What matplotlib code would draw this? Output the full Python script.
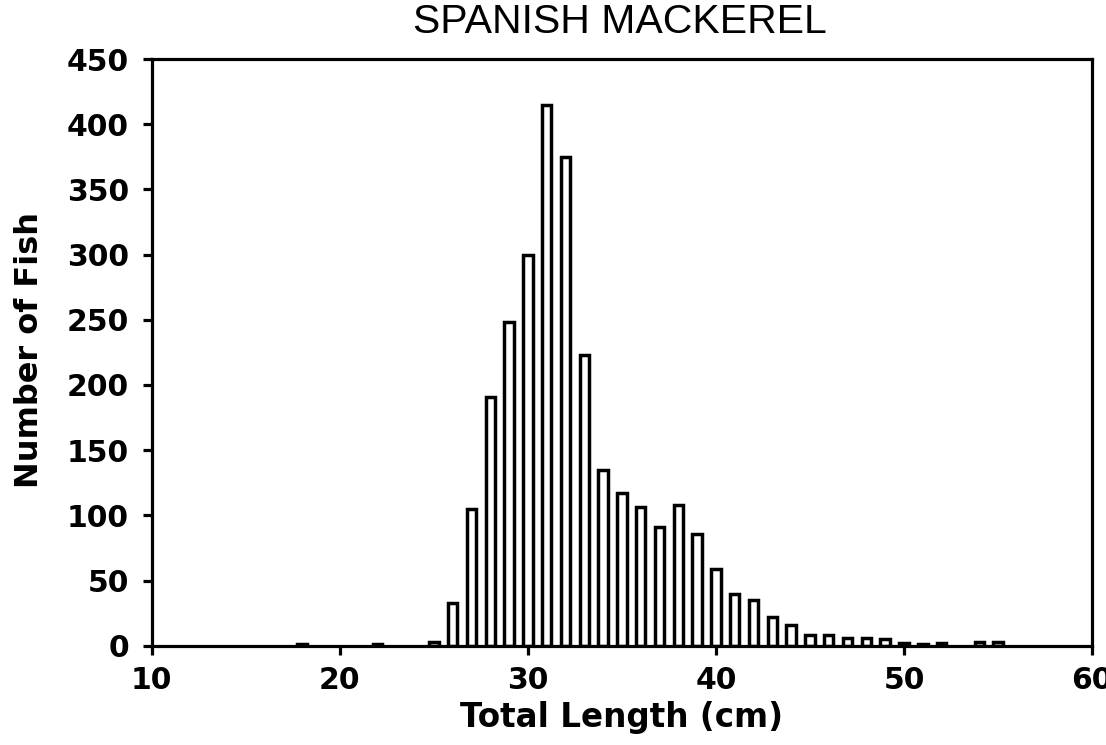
import matplotlib
matplotlib.use("Agg")
import matplotlib.pyplot as plt

# Data
lengths = [18, 22, 25, 26, 27, 28, 29, 30, 31, 32, 33, 34, 35, 36, 37, 38, 39,
           40, 41, 42, 43, 44, 45, 46, 47, 48, 49, 50, 51, 52, 54, 55]
counts = [1, 1, 3, 33, 105, 191, 248, 300, 415, 375, 223, 135, 117, 106, 91, 108, 86,
          59, 40, 35, 22, 16, 8, 8, 6, 6, 5, 2, 1, 2, 3, 3]
xticks = [10, 20, 30, 40, 50, 60]
yticks = [0, 50, 100, 150, 200, 250, 300, 350, 400, 450]
title = "SPANISH MACKEREL"
xlabel = "Total Length (cm)"
ylabel = "Number of Fish"

fig = plt.figure(figsize=(11.06, 7.45), dpi=100)
ax = fig.add_axes([0.1372, 0.1333, 0.8502, 0.7875])

ax.bar(lengths, counts, width=0.5, facecolor="white", edgecolor="black",
       linewidth=2.5, zorder=2)

ax.set_xlim(10, 60)
ax.set_ylim(0, 450)
ax.set_xticks(xticks)
ax.set_yticks(yticks)
ax.set_xticklabels([str(t) for t in xticks])
ax.set_yticklabels([str(t) for t in yticks])

for sp in ax.spines.values():
    sp.set_linewidth(2.3)
    sp.set_color("black")

ax.tick_params(axis="both", direction="out", length=6.5, width=2.3, colors="black")
ax.tick_params(axis="y", pad=10)
ax.tick_params(axis="x", pad=8)
for lab in ax.get_xticklabels() + ax.get_yticklabels():
    lab.set_fontfamily("DejaVu Sans")
    lab.set_fontweight("bold")
    lab.set_fontsize(21.5)

fig.text(620 / 1106, 1 - 22 / 745, title, ha="center", va="center",
         fontsize=29.5, family="Liberation Sans")
fig.text(622 / 1106, 1 - 718 / 745, xlabel, ha="center", va="center",
         fontsize=23.5, family="DejaVu Sans", fontweight="bold")
fig.text(30 / 1106, 1 - 350 / 745, ylabel, ha="center", va="center",
         rotation=90, fontsize=23, family="DejaVu Sans", fontweight="bold")

fig.savefig("out.png", dpi=100, facecolor="white")
